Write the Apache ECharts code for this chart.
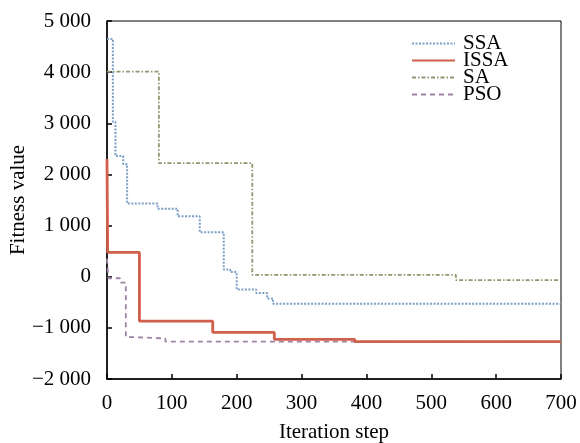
<!DOCTYPE html>
<html><head><meta charset="utf-8">
<script src="https://cdn.jsdelivr.net/npm/echarts@6/dist/echarts.min.js"></script>
<style>html,body{margin:0;padding:0;background:#fff}#c{width:580px;height:443px}</style>
</head><body><div id="c"></div>
<script>
var seriesNames = ['SSA', 'ISSA', 'SA', 'PSO'];
var ssaData = [[0,4650],[9,3030],[13,2360],[25,2200],[31,1430],[78,1330],[109,1180],[143,870],[180,140],[190,90],[200,-250],[230,-320],[247,-425],[256,-530],[700,-530]];
var issaData = [[0,2300],[1,475],[50,-870],[163,-1090],[258,-1225],[382,-1270],[700,-1270]];
var saData = [[0,4010],[80,2220],[224,35],[538,-65],[700,-65]];
var psoData = [[0,350],[2,-30],[20,-115],[29,-1180],[40,-1207],[90,-1268],[700,-1268]];
var xTicks = [0,100,200,300,400,500,600,700];
var yTicks = [-2000,-1000,0,1000,2000,3000,4000,5000];

function fmt(v){
  var s = Math.abs(v).toString();
  if (s.length > 3) s = s.slice(0, s.length-3) + ' ' + s.slice(s.length-3);
  return (v < 0 ? '\u2212' : '') + s;
}
var font = 'Liberation Serif';
var chart = echarts.init(document.getElementById('c'));
chart.setOption({
  animation: false,
  backgroundColor: '#fff',
  grid: {left: 107, right: 19, top: 21, bottom: 64, show: true, borderColor: '#000', borderWidth: 1,
         containLabel: false, outerBoundsMode: 'none'},
  legend: {
    orient: 'vertical', left: 411, top: 33, itemGap: -4, itemWidth: 43, itemHeight: 14, padding: 0,
    data: seriesNames,
    itemStyle: {opacity: 0},
    textStyle: {fontFamily: font, fontSize: 21, color: '#000', padding: [0,0,0,3]}
  },
  xAxis: {
    type: 'value', min: xTicks[0], max: xTicks[xTicks.length-1], interval: 100,
    name: 'Iteration step', nameLocation: 'middle', nameGap: 43, nameMoveOverlap: false,
    nameTextStyle: {fontFamily: font, fontSize: 21, color: '#000'},
    axisLine: {onZero: false, lineStyle: {color: '#000', width: 1.5}},
    axisTick: {inside: true, length: 5, lineStyle: {color: '#000', width: 1.5}},
    axisLabel: {fontFamily: font, fontSize: 21, color: '#000', margin: 14},
    splitLine: {show: false}
  },
  yAxis: {
    type: 'value', min: yTicks[0], max: yTicks[yTicks.length-1], interval: 1000,
    name: 'Fitness value', nameLocation: 'middle', nameGap: 78, nameMoveOverlap: false,
    nameTextStyle: {fontFamily: font, fontSize: 21, color: '#000'},
    axisLine: {show: true, onZero: false, lineStyle: {color: '#000', width: 1.5}},
    axisTick: {show: true, inside: true, length: 5, lineStyle: {color: '#000', width: 1.5}},
    axisLabel: {fontFamily: font, fontSize: 21, color: '#000', margin: 16, formatter: fmt},
    splitLine: {show: false}
  },
  series: [
    {name: 'SSA', type: 'line', step: 'end', data: ssaData, symbol: 'none', z: 2,
     itemStyle: {color: '#7d9fc6'}, lineStyle: {color: '#7d9fc6', width: 2, type: [2, 1.5]}},
    {name: 'ISSA', type: 'line', step: 'end', data: issaData, symbol: 'none', z: 4,
     itemStyle: {color: '#d0604b'}, lineStyle: {color: '#d0604b', width: 2.8, type: 'solid'}},
    {name: 'SA', type: 'line', step: 'end', data: saData, symbol: 'none', z: 3,
     itemStyle: {color: '#8e9870'}, lineStyle: {color: '#8e9870', width: 1.8, type: [4, 2, 1.5, 2]}},
    {name: 'PSO', type: 'line', step: 'end', data: psoData, symbol: 'none', z: 3,
     itemStyle: {color: '#9c84a6'}, lineStyle: {color: '#9c84a6', width: 1.8, type: [5, 4]}}
  ]
});
</script></body></html>
